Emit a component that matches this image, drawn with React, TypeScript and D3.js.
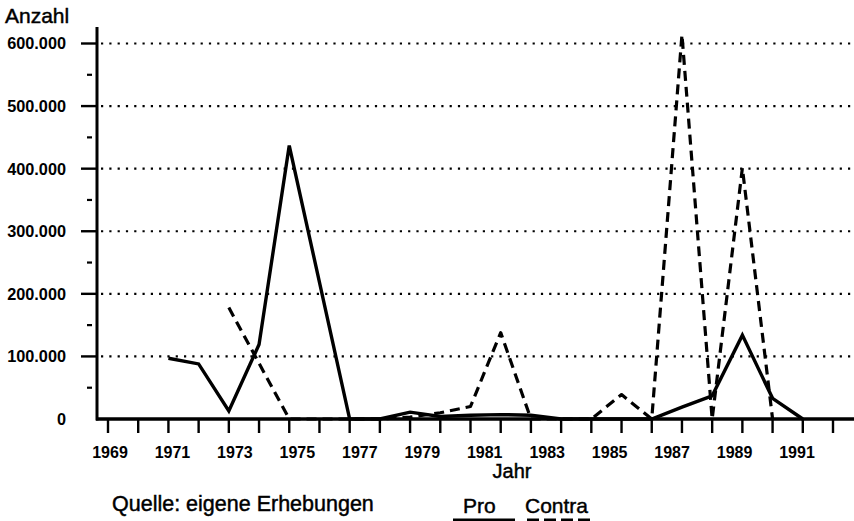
import React from "react";
import * as d3 from "d3";

// Pro (solid) and Contra (dashed), counts per year
const proYears = [1971, 1972, 1973, 1974, 1975, 1977, 1978, 1979, 1980, 1981, 1982, 1983, 1984, 1987, 1988, 1989, 1990, 1991, 1992];
const proValues = [97000, 88000, 13000, 119000, 437000, 0, 0, 11000, 4000, 6000, 7000, 6000, 0, 0, 19000, 37000, 134000, 33000, 0];

const contraYears = [1973, 1975, 1978, 1979, 1980, 1981, 1982, 1983, 1985, 1986, 1987, 1988, 1989, 1990, 1991];
const contraValues = [178000, 0, 0, 3000, 10000, 20000, 138000, 0, 0, 39000, 0, 614000, 0, 401000, 0];

const yTicks = [0, 100000, 200000, 300000, 400000, 500000, 600000];
const yMinorTicks = [50000, 150000, 250000, 350000, 450000, 550000];
const tickYears = d3.range(1969, 1994);
const labelYears = [1969, 1971, 1973, 1975, 1977, 1979, 1981, 1983, 1985, 1987, 1989, 1991];

const W = 854;
const H = 521;
const font = "'Liberation Sans', Arial, Helvetica, sans-serif";

export default function App() {
  const x = d3.scaleLinear().domain([1969, 1993]).range([108, 833]);
  // the printed year labels drift a little to the right of their ticks
  const xLabel = d3.scaleLinear().domain([1969, 1991]).range([110, 797]);
  const y = d3.scaleLinear().domain([0, 600000]).range([419, 43.5]);

  const line = d3
    .line<[number, number]>()
    .x((d) => x(d[0]))
    .y((d) => y(d[1]));

  const proPts = proYears.map((yr, i) => [yr, proValues[i]] as [number, number]);
  const contraPts = contraYears.map((yr, i) => [yr, contraValues[i]] as [number, number]);
  const fmt = (v: number) => (v === 0 ? "0" : d3.format(",")(v).replace(/,/g, "."));

  // scanned print looks a bit heavier than the plain font
  const ink = { fill: "#000", stroke: "#000", strokeWidth: 0.45 };

  return (
    <svg
      width={W}
      height={H}
      style={{ position: "absolute", left: 0, top: 0, background: "#fff" }}
      fontFamily={font}
    >
      <rect width={W} height={H} fill="#fff" />

      <text x={5} y={23} fontSize={21} {...ink}>Anzahl</text>

      {/* grid */}
      {yTicks.filter((t) => t > 0).map((t) => (
        <line key={t} x1={101} x2={852} y1={y(t)} y2={y(t)} stroke="#000" strokeWidth={2.2} strokeDasharray="2.2 6.1" />
      ))}

      {/* y axis */}
      <line x1={97} x2={97} y1={27} y2={420.5} stroke="#000" strokeWidth={3} />
      {yTicks.filter((t) => t > 0).map((t) => (
        <line key={"mt" + t} x1={81} x2={97} y1={y(t)} y2={y(t)} stroke="#000" strokeWidth={2.4} />
      ))}
      {yMinorTicks.map((t) => (
        <line key={"mn" + t} x1={87} x2={92} y1={y(t)} y2={y(t)} stroke="#000" strokeWidth={2.2} />
      ))}
      {yTicks.map((t) => (
        <text key={"yl" + t} x={66} y={y(t)} dy="0.36em" textAnchor="end" fontSize={16.3} fontWeight="bold" fill="#000">
          {fmt(t)}
        </text>
      ))}

      {/* data */}
      <path d={line(contraPts) ?? ""} fill="none" stroke="#000" strokeWidth={3.2} strokeDasharray="10 6" strokeLinejoin="round" />
      <path d={line(proPts) ?? ""} fill="none" stroke="#000" strokeWidth={3.4} strokeLinejoin="miter" />

      {/* x axis */}
      <line x1={96} x2={854} y1={419} y2={419} stroke="#000" strokeWidth={3.4} />
      {tickYears.map((yr) => (
        <line key={"xt" + yr} x1={x(yr)} x2={x(yr)} y1={419} y2={433} stroke="#000" strokeWidth={2.4} />
      ))}
      {labelYears.map((yr) => (
        <text key={"xl" + yr} x={xLabel(yr)} y={458} textAnchor="middle" fontSize={16} fontWeight="bold" fill="#000">
          {yr}
        </text>
      ))}
      <text x={512} y={478} textAnchor="middle" fontSize={20} {...ink}>Jahr</text>

      <text x={112} y={511} fontSize={21.5} {...ink}>Quelle: eigene Erhebungen</text>

      {/* legend */}
      <text x={463} y={513} fontSize={21} {...ink}>Pro</text>
      <text x={525} y={513} fontSize={21} {...ink}>Contra</text>
      <line x1={453} x2={515} y1={520} y2={520} stroke="#000" strokeWidth={3} />
      <line x1={527} x2={592} y1={520} y2={520} stroke="#000" strokeWidth={3} strokeDasharray="12 5" />
    </svg>
  );
}
